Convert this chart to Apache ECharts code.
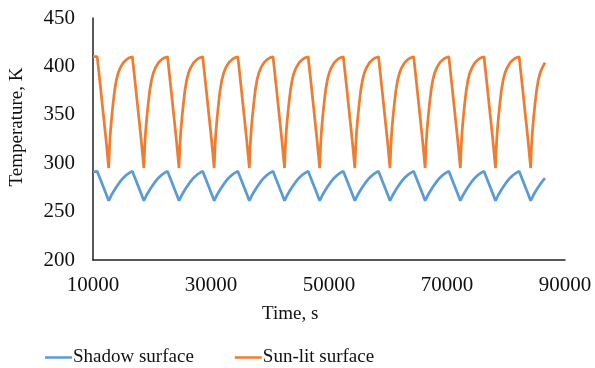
<!DOCTYPE html>
<html>
<head>
<meta charset="utf-8">
<script src="https://cdn.jsdelivr.net/npm/echarts@6/dist/echarts.min.js"></script>
<style>
  html, body { margin: 0; padding: 0; background: #fff; }
  #chart { width: 595px; height: 368px; }
</style>
</head>
<body>
<div id="chart"></div>
<script>
// Time stamps, s (one row per orbit: eclipse cooling, then heating in sunlight)
const timeS = [
  10000,
  10710, 11210, 11710, 12210, 12660, 12810, 12960, 13160, 13410, 13660, 13960, 14310, 14660, 15160, 15660, 16160,
  16670, 17170, 17670, 18170, 18620, 18770, 18920, 19120, 19370, 19620, 19920, 20270, 20620, 21120, 21620, 22120,
  22630, 23130, 23630, 24130, 24580, 24730, 24880, 25080, 25330, 25580, 25880, 26230, 26580, 27080, 27580, 28080,
  28590, 29090, 29590, 30090, 30540, 30690, 30840, 31040, 31290, 31540, 31840, 32190, 32540, 33040, 33540, 34040,
  34550, 35050, 35550, 36050, 36500, 36650, 36800, 37000, 37250, 37500, 37800, 38150, 38500, 39000, 39500, 40000,
  40510, 41010, 41510, 42010, 42460, 42610, 42760, 42960, 43210, 43460, 43760, 44110, 44460, 44960, 45460, 45960,
  46470, 46970, 47470, 47970, 48420, 48570, 48720, 48920, 49170, 49420, 49720, 50070, 50420, 50920, 51420, 51920,
  52430, 52930, 53430, 53930, 54380, 54530, 54680, 54880, 55130, 55380, 55680, 56030, 56380, 56880, 57380, 57880,
  58390, 58890, 59390, 59890, 60340, 60490, 60640, 60840, 61090, 61340, 61640, 61990, 62340, 62840, 63340, 63840,
  64350, 64850, 65350, 65850, 66300, 66450, 66600, 66800, 67050, 67300, 67600, 67950, 68300, 68800, 69300, 69800,
  70310, 70810, 71310, 71810, 72260, 72410, 72560, 72760, 73010, 73260, 73560, 73910, 74260, 74760, 75260, 75760,
  76270, 76770, 77270, 77770, 78220, 78370, 78520, 78720, 78970, 79220, 79520, 79870, 80220, 80720, 81220, 81720,
  82230, 82730, 83230, 83730, 84180, 84330, 84480, 84680, 84930, 85180, 85480, 85830, 86180, 86610
];

// Shadow surface temperature, K
const shadowK = [
  291,
  291.6, 284, 276.3, 268.5, 261.3, 263.2, 265, 267.5, 270, 272.5, 275.3, 278.5, 281.5, 285, 287.8, 290,
  291.6, 284, 276.3, 268.5, 261.3, 263.2, 265, 267.5, 270, 272.5, 275.3, 278.5, 281.5, 285, 287.8, 290,
  291.6, 284, 276.3, 268.5, 261.3, 263.2, 265, 267.5, 270, 272.5, 275.3, 278.5, 281.5, 285, 287.8, 290,
  291.6, 284, 276.3, 268.5, 261.3, 263.2, 265, 267.5, 270, 272.5, 275.3, 278.5, 281.5, 285, 287.8, 290,
  291.6, 284, 276.3, 268.5, 261.3, 263.2, 265, 267.5, 270, 272.5, 275.3, 278.5, 281.5, 285, 287.8, 290,
  291.6, 284, 276.3, 268.5, 261.3, 263.2, 265, 267.5, 270, 272.5, 275.3, 278.5, 281.5, 285, 287.8, 290,
  291.6, 284, 276.3, 268.5, 261.3, 263.2, 265, 267.5, 270, 272.5, 275.3, 278.5, 281.5, 285, 287.8, 290,
  291.6, 284, 276.3, 268.5, 261.3, 263.2, 265, 267.5, 270, 272.5, 275.3, 278.5, 281.5, 285, 287.8, 290,
  291.6, 284, 276.3, 268.5, 261.3, 263.2, 265, 267.5, 270, 272.5, 275.3, 278.5, 281.5, 285, 287.8, 290,
  291.6, 284, 276.3, 268.5, 261.3, 263.2, 265, 267.5, 270, 272.5, 275.3, 278.5, 281.5, 285, 287.8, 290,
  291.6, 284, 276.3, 268.5, 261.3, 263.2, 265, 267.5, 270, 272.5, 275.3, 278.5, 281.5, 285, 287.8, 290,
  291.6, 284, 276.3, 268.5, 261.3, 263.2, 265, 267.5, 270, 272.5, 275.3, 278.5, 281.5, 285, 287.8, 290,
  291.6, 284, 276.3, 268.5, 261.3, 263.2, 265, 267.5, 270, 272.5, 275.3, 278.5, 281.5, 284.5
];

// Sun-lit surface temperature, K
const sunlitK = [
  410,
  410, 382, 353, 324, 295, 318, 333, 347, 362, 375, 386, 394, 399, 404, 407, 409,
  410, 382, 353, 324, 295, 318, 333, 347, 362, 375, 386, 394, 399, 404, 407, 409,
  410, 382, 353, 324, 295, 318, 333, 347, 362, 375, 386, 394, 399, 404, 407, 409,
  410, 382, 353, 324, 295, 318, 333, 347, 362, 375, 386, 394, 399, 404, 407, 409,
  410, 382, 353, 324, 295, 318, 333, 347, 362, 375, 386, 394, 399, 404, 407, 409,
  410, 382, 353, 324, 295, 318, 333, 347, 362, 375, 386, 394, 399, 404, 407, 409,
  410, 382, 353, 324, 295, 318, 333, 347, 362, 375, 386, 394, 399, 404, 407, 409,
  410, 382, 353, 324, 295, 318, 333, 347, 362, 375, 386, 394, 399, 404, 407, 409,
  410, 382, 353, 324, 295, 318, 333, 347, 362, 375, 386, 394, 399, 404, 407, 409,
  410, 382, 353, 324, 295, 318, 333, 347, 362, 375, 386, 394, 399, 404, 407, 409,
  410, 382, 353, 324, 295, 318, 333, 347, 362, 375, 386, 394, 399, 404, 407, 409,
  410, 382, 353, 324, 295, 318, 333, 347, 362, 375, 386, 394, 399, 404, 407, 409,
  410, 382, 353, 324, 295, 318, 333, 347, 362, 375, 386, 394, 399, 404
];

const xTickValues = [10000, 30000, 50000, 70000, 90000];
const seriesNames = ['Shadow surface', 'Sun-lit surface'];

const FONT = '"Liberation Serif", "Times New Roman", serif';
const chart = echarts.init(document.getElementById('chart'), null, { renderer: 'canvas' });

const pairs = vals => timeS.map((t, i) => [t, vals[i]]);

chart.setOption({
  animation: false,
  backgroundColor: '#ffffff',
  grid: { left: 93, right: 30, top: 18, bottom: 108, containLabel: false },
  xAxis: {
    type: 'value',
    min: 10000,
    max: 90000,
    axisLine: { show: true, lineStyle: { color: '#222', width: 1.5 } },
    axisTick: { show: false },
    splitLine: { show: false },
    axisLabel: {
      customValues: xTickValues,
      formatter: v => String(v),
      color: '#111', fontFamily: FONT, fontSize: 21, margin: 15
    }
  },
  yAxis: {
    type: 'value',
    min: 200,
    max: 450,
    interval: 50,
    axisLine: { show: true, lineStyle: { color: '#222', width: 1.5 } },
    axisTick: { show: false },
    splitLine: { show: false },
    axisLabel: { color: '#111', fontFamily: FONT, fontSize: 21, margin: 18 }
  },
  legend: {
    left: 40,
    top: 343,
    icon: 'rect',
    itemWidth: 27,
    itemHeight: 2.5,
    itemGap: 41,
    textStyle: { color: '#111', fontFamily: FONT, fontSize: 19, padding: [0, 0, 0, -4] },
    data: seriesNames
  },
  graphic: [
    {
      type: 'text',
      left: 262,
      top: 305,
      style: { text: 'Time, s', fill: '#111', font: '19px ' + FONT }
    },
    {
      type: 'text',
      x: 17,
      y: 127,
      rotation: Math.PI / 2,
      style: {
        text: 'Temperature, K', fill: '#111', font: '19px ' + FONT,
        align: 'center', verticalAlign: 'middle'
      }
    }
  ],
  series: [
    {
      name: seriesNames[0],
      type: 'line',
      data: pairs(shadowK),
      showSymbol: false,
      lineStyle: { color: '#5B9BD5', width: 2.75 },
      itemStyle: { color: '#5B9BD5' }
    },
    {
      name: seriesNames[1],
      type: 'line',
      data: pairs(sunlitK),
      showSymbol: false,
      lineStyle: { color: '#ED7D31', width: 2.75 },
      itemStyle: { color: '#ED7D31' }
    }
  ]
});
</script>
</body>
</html>
